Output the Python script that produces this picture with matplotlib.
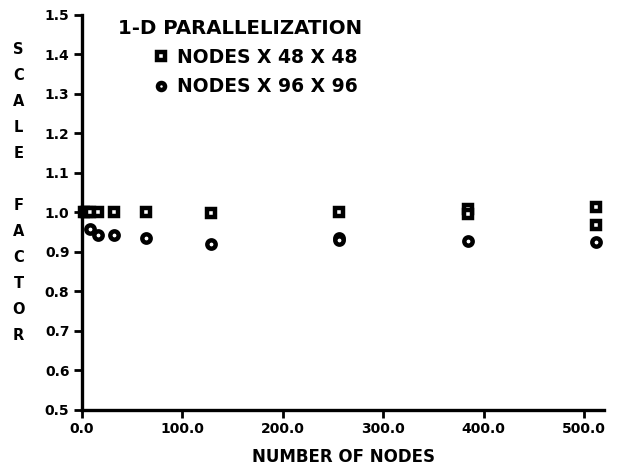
import matplotlib.pyplot as plt

plt.rcParams['font.family'] = ['DejaVu Sans']
plt.rcParams['font.weight'] = 'bold'

# Scale factor vs. number of nodes, 1-D parallelization
nodes_48 = [2, 4, 8, 16, 32, 64, 128, 256, 384, 384, 512, 512]
scale_48 = [1.0, 1.0, 1.0, 1.0, 1.0, 1.0, 0.998, 1.0, 1.01, 0.996, 1.013, 0.968]

nodes_96 = [8, 16, 32, 64, 128, 256, 256, 384, 512]
scale_96 = [0.958, 0.943, 0.942, 0.935, 0.921, 0.935, 0.931, 0.927, 0.925]

xticks = [0, 100, 200, 300, 400, 500]
yticks = [0.5, 0.6, 0.7, 0.8, 0.9, 1.0, 1.1, 1.2, 1.3, 1.4, 1.5]

fig = plt.figure(figsize=(6.21, 4.68), dpi=100)
ax = fig.add_axes([0.132, 0.124, 0.841, 0.844])

mk = dict(linestyle='none', mfc='white', mec='black', mew=3.2, ms=6, clip_on=False)
ax.plot(nodes_48, scale_48, marker='s', label='NODES X 48 X 48', **mk)
ax.plot(nodes_96, scale_96, marker='o', label='NODES X 96 X 96', **mk)

ax.set_xlim(0, 520)
ax.set_ylim(0.5, 1.5)
ax.set_xticks(xticks)
ax.set_xticklabels([f'{v:.1f}' for v in xticks], fontsize=10, fontweight='bold')
ax.set_yticks(yticks)
ax.set_yticklabels([f'{v:.1f}' for v in yticks], fontsize=10, fontweight='bold')

for s in ['top', 'right']:
    ax.spines[s].set_visible(False)
for s in ['left', 'bottom']:
    ax.spines[s].set_linewidth(2.4)
ax.tick_params(axis='both', direction='out', width=2, length=6, pad=3)

ax.set_xlabel('NUMBER OF NODES', fontsize=12, fontweight='bold', labelpad=8)

# stacked vertical y label
ylab = '\n'.join(list('SCALE') + [' '] + list('FACTOR'))
fig.text(0.03, 0.589, ylab, fontsize=10.5, fontweight='bold', ha='center', va='center',
         linespacing=1.92)

fig.text(0.19, 0.94, '1-D PARALLELIZATION', fontsize=14.2, fontweight='bold',
         ha='left', va='center')
ax.legend(loc='upper left', bbox_to_anchor=(0.232, 0.918), bbox_transform=fig.transFigure,
          frameon=False, prop={'size': 13.5, 'weight': 'bold'}, handlelength=0.8,
          handletextpad=0.45, labelspacing=0.55, borderpad=0, markerscale=0.85)

fig.savefig('out.png', dpi=100)
